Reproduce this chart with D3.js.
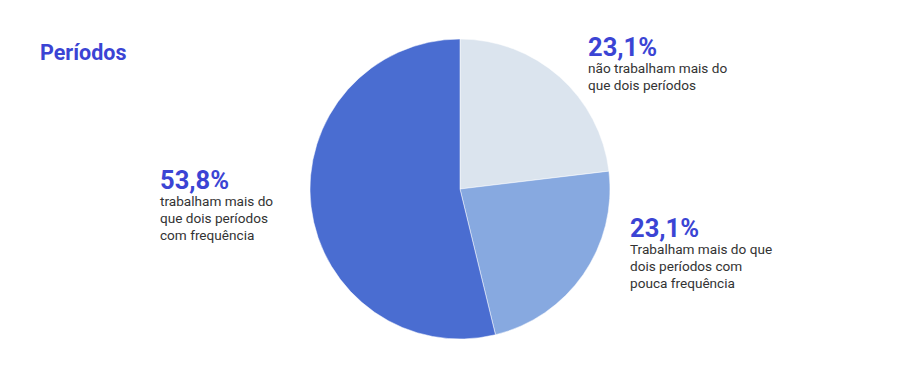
<!DOCTYPE html>
<html>
<head>
<meta charset="utf-8">
<script src="https://cdn.jsdelivr.net/npm/d3@7"></script>
<style>
  body { margin: 0; background: #fff; }
  svg { font-family: Roboto, sans-serif; }
</style>
</head>
<body>
<svg width="920" height="379"></svg>
<script>
// data
var categories = ["não trabalham mais do que dois períodos",
                  "Trabalham mais do que dois períodos com pouca frequência",
                  "trabalham mais do que dois períodos com frequência"];
var values = [23.1, 23.1, 53.8];
var colors = ["#dbe4ee", "#87a9e0", "#4a6dd1"];
var labelLines = [
  ["não trabalham mais do", "que dois períodos"],
  ["Trabalham mais do que", "dois períodos com", "pouca frequência"],
  ["trabalham mais do", "que dois períodos", "com frequência"]
];
var labelPos = [[588, 56], [630, 237], [160, 189]];

var svg = d3.select("svg"),
	cx = 460,
	cy = 189,
	radius = 150;

svg.append("text")
	.attr("x", 40).attr("y", 60)
	.attr("font-size", 21.5).attr("font-weight", 700)
	.attr("fill", "#3b44d4")
	.text("Períodos");

var pie = d3.pie().sort(null).value(function (d) { return d; });
var arc = d3.arc().innerRadius(0).outerRadius(radius);

var g = svg.append("g").attr("transform", "translate(" + cx + "," + cy + ")");

g.selectAll("path")
	.data(pie(values))
	.enter()
	.append("path")
	.attr("d", arc)
	.attr("fill", function (d, i) { return colors[i]; })
	.attr("stroke", "#fff")
	.attr("stroke-width", 0.5);

var labels = svg.selectAll(".lbl")
	.data(values)
	.enter()
	.append("g")
	.attr("class", "lbl")
	.attr("transform", function (d, i) { return "translate(" + labelPos[i][0] + "," + labelPos[i][1] + ")"; });

labels.append("text")
	.attr("font-size", 25.5).attr("font-weight", 700)
	.attr("fill", "#3b44d4")
	.text(function (d) { return d3.format(".1f")(d).replace(".", ",") + "%"; });

labels.each(function (d, i) {
	d3.select(this).selectAll(".line")
		.data(labelLines[i])
		.enter()
		.append("text")
		.attr("class", "line")
		.attr("y", function (t, j) { return 16.5 + j * 17; })
		.attr("font-size", 13.6)
		.attr("fill", "#333")
		.text(function (t) { return t; });
});
</script>
</body>
</html>
